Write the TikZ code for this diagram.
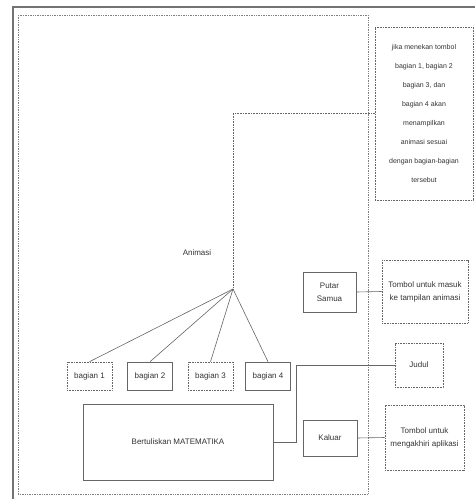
\documentclass[tikz,border=0pt]{standalone}
\usepackage{fontspec}
\setmainfont{Liberation Sans}
\usetikzlibrary{positioning}

\begin{document}
\begin{tikzpicture}[
    x=1pt, y=-1pt,
    box/.style={draw=black!60, line width=0.6pt, align=center, inner sep=1pt,
        text=black!80, font=\fontsize{8}{13}\selectfont},
    bagbox/.style={box, minimum width=45pt, minimum height=28pt},
    infobox/.style={box, dashed, dash pattern=on 1pt off 0.6pt},
    link/.style={draw=black!60, line width=0.6pt},
    frame/.style={draw=black!55, line width=1.4pt}
]
    \useasboundingbox (0,0) rectangle (475,499);

    % --- FRAMES ---
    \draw[frame] (13,499) -- (13,7) -- (475,7);
    \draw[draw=black!50, line width=0.7pt, densely dotted] (18,15) rectangle (368,494);

    % --- ANIMASI AREA ---
    \node[font=\fontsize{8}{10}\selectfont, text=black!80] (animasi) at (197,253) {Animasi};
    \coordinate (apex) at (233,289);

    \node[bagbox, densely dotted] (bag1) at (89.5,376) {bagian 1};
    \node[bagbox] (bag2) at (150,376) {bagian 2};
    \node[bagbox, densely dotted] (bag3) at (210.5,376) {bagian 3};
    \node[bagbox] (bag4) at (268,376) {bagian 4};

    \node[box, minimum width=190pt, minimum height=76pt] (mat) at (178,442) {Bertuliskan MATEMATIKA};

    % --- BUTTONS ---
    \node[box, minimum width=53pt, minimum height=40pt] (putar) at (329.5,292) {Putar\\Samua};
    \node[box, minimum width=54pt, minimum height=36pt] (kaluar) at (330,438) {Kaluar};

    % --- NOTES ---
    \node[infobox, minimum width=98pt, minimum height=173pt,
        font=\fontsize{7}{19}\selectfont] (info) at (424,113.5)
        {jika menekan tombol\\bagian 1, bagian 2\\bagian 3, dan\\bagian 4 akan\\menampilkan\\animasi sesuai\\dengan bagian-bagian\\tersebut};
    \node[infobox, minimum width=86pt, minimum height=63pt] (masuk) at (425,291.5)
        {Tombol untuk masuk\\ke tampilan animasi};
    \node[infobox, minimum width=48pt, minimum height=44pt] (judul) at (419,365) {Judul};
    \node[infobox, minimum width=79pt, minimum height=65pt] (akhir) at (424.5,437.5)
        {Tombol untuk\\mengakhiri aplikasi};

    % --- CONNECTIONS ---
    \draw[link, densely dotted] (info.west) -| (apex);
    \foreach \b in {bag1,bag2,bag3,bag4} {
        \draw[link] (apex) -- (\b.north);
    }
    \draw[link] (mat.east) -- ++(23,0) |- (judul.west);
    \draw[link] (putar.east) -- (masuk.west);
    \draw[link] (kaluar.east) -- (akhir.west);

\end{tikzpicture}
\end{document}
